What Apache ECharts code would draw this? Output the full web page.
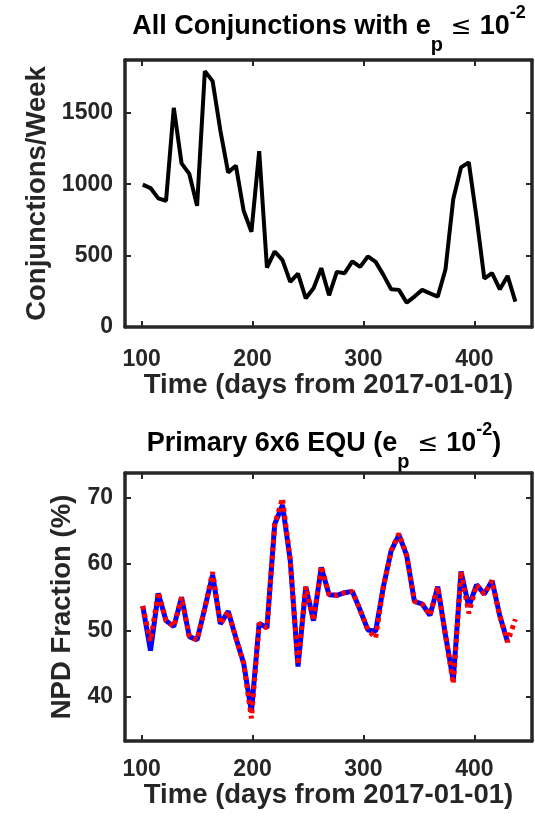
<!DOCTYPE html>
<html>
<head>
<meta charset="utf-8">
<script src="https://cdn.jsdelivr.net/npm/echarts@6/dist/echarts.min.js"></script>
<style>
  html, body { margin: 0; padding: 0; background: #ffffff; }
  #chart { width: 535px; height: 820px; }
</style>
</head>
<body>
<div id="chart"></div>
<script>
// Weekly sample times (days from 2017-01-01)
const days = [101, 108, 115, 122, 129, 136, 143, 150, 157, 164, 171, 178, 185, 192, 199, 206,
  213, 220, 227, 234, 241, 248, 255, 262, 269, 276, 283, 290, 297, 304, 311, 318, 325, 332,
  339, 346, 353, 360, 367, 374, 381, 388, 395, 402, 409, 416, 423, 430, 437];

// Conjunctions per week with e_p <= 1e-2
const conjunctionsPerWeek = [997, 973, 901, 884, 1535, 1146, 1072, 849, 1792, 1722, 1376, 1083,
  1130, 814, 667, 1231, 416, 529, 468, 316, 374, 201, 271, 412, 222, 386, 377, 459, 421, 494,
  456, 365, 264, 260, 171, 213, 260, 236, 213, 405, 896, 1118, 1153, 767, 339, 377, 264, 358, 178];

// NPD fraction (%), primary 6x6 EQU: solid blue curve (ends at day 430)
const npdFractionBlue = [53.7, 47.0, 55.6, 51.5, 50.6, 55.0, 49.1, 48.6, 53.4, 58.4, 51.0, 52.9,
  48.9, 45.1, 37.8, 51.1, 50.4, 66.0, 68.9, 60.6, 44.6, 56.6, 51.5, 59.5, 55.4, 55.3, 55.7, 55.9,
  53.1, 50.1, 49.9, 56.6, 62.0, 64.4, 61.3, 54.4, 54.0, 52.3, 56.6, 49.3, 42.5, 58.9, 53.6, 56.9,
  55.5, 57.5, 52.2, 48.3];

// NPD fraction (%), dotted red curve (ends at day 437)
const npdFractionRed = [53.7, 48.4, 55.8, 51.5, 50.6, 55.0, 49.1, 48.6, 53.4, 58.8, 51.0, 52.9,
  48.9, 45.1, 36.8, 51.1, 50.4, 66.0, 69.9, 60.6, 44.9, 56.6, 51.5, 59.7, 55.4, 55.3, 55.7, 55.9,
  53.1, 50.1, 48.9, 56.6, 62.0, 64.6, 61.3, 54.4, 54.0, 52.3, 56.6, 49.3, 42.0, 58.9, 52.6, 56.9,
  55.5, 57.5, 52.2, 48.3, 51.7];

const xTicks = [100, 200, 300, 400];
const conjTicks = [0, 500, 1000, 1500];
const npdTicks = [40, 50, 60, 70];

const INK = '#262626';
const FONT = '"Liberation Sans", Arial, Helvetica, sans-serif';

function pairs(xs, ys) {
  return ys.map((y, i) => [xs[i], y]);
}

function tickLabels(ticks, margin) {
  return { show: true, customValues: ticks, color: INK, fontSize: 23, fontWeight: 'bold',
           fontFamily: FONT, margin: margin, formatter: (v) => String(v) };
}

function frameAxis(extra, ticks) {
  return Object.assign({
    type: 'value',
    axisLine: { show: true, onZero: false, lineStyle: { color: INK, width: 3.5 } },
    axisTick: { show: true, inside: true, length: 6, customValues: ticks,
                lineStyle: { color: INK, width: 2 } },
    axisLabel: { show: false },
    splitLine: { show: false },
    nameTextStyle: { color: INK, fontSize: 27.5, fontWeight: 'bold', fontFamily: FONT },
    nameLocation: 'middle'
  }, extra);
}

const titleRich = {
  m: { fontSize: 27, fontWeight: 'bold', fontFamily: FONT, color: '#000', lineHeight: 44 },
  s: { fontSize: 20, fontWeight: 'bold', fontFamily: FONT, color: '#000', verticalAlign: 'bottom', height: 8 },
  le: { fontSize: 25, fontWeight: 'normal', fontFamily: '"DejaVu Sans", sans-serif', color: '#000', lineHeight: 44 },
  u: { fontSize: 18, fontWeight: 'bold', fontFamily: FONT, color: '#000', verticalAlign: 'top', height: 17 }
};

const chart = echarts.init(document.getElementById('chart'), null, { renderer: 'canvas' });

chart.setOption({
  animation: false,
  backgroundColor: '#ffffff',
  grid: [
    { left: 125, top: 60, width: 407, height: 267, show: false },
    { left: 125, top: 473, width: 407, height: 268, show: false }
  ],
  xAxis: [
    frameAxis({ gridIndex: 0, position: 'bottom', min: 85, max: 452,
      name: 'Time (days from 2017-01-01)', nameGap: 44, axisLabel: tickLabels(xTicks, 21) }, xTicks),
    frameAxis({ gridIndex: 0, position: 'top', min: 85, max: 452 }, xTicks),
    frameAxis({ gridIndex: 1, position: 'bottom', min: 85, max: 452,
      name: 'Time (days from 2017-01-01)', nameGap: 36, axisLabel: tickLabels(xTicks, 17) }, xTicks),
    frameAxis({ gridIndex: 1, position: 'top', min: 85, max: 452 }, xTicks)
  ],
  yAxis: [
    frameAxis({ gridIndex: 0, position: 'left', min: 0, max: 1870,
      name: 'Conjunctions/Week', nameGap: 74, nameRotate: 90,
      axisLabel: tickLabels(conjTicks, 12) }, conjTicks),
    frameAxis({ gridIndex: 0, position: 'right', min: 0, max: 1870 }, conjTicks),
    frameAxis({ gridIndex: 1, position: 'left', min: 33.4, max: 73.7,
      name: 'NPD Fraction (%)', nameGap: 42, nameRotate: 90,
      axisLabel: tickLabels(npdTicks, 12) }, npdTicks),
    frameAxis({ gridIndex: 1, position: 'right', min: 33.4, max: 73.7 }, npdTicks)
  ],
  series: [
    {
      name: 'Conjunctions/Week', type: 'line', xAxisIndex: 0, yAxisIndex: 0,
      data: pairs(days, conjunctionsPerWeek), showSymbol: false, symbol: 'none',
      lineStyle: { color: '#000000', width: 4 }
    },
    {
      name: 'NPD blue', type: 'line', xAxisIndex: 2, yAxisIndex: 2,
      data: pairs(days, npdFractionBlue), showSymbol: false, symbol: 'none',
      lineStyle: { color: '#0000ff', width: 5 }
    },
    {
      name: 'NPD red', type: 'line', xAxisIndex: 2, yAxisIndex: 2,
      data: pairs(days, npdFractionRed), showSymbol: false, symbol: 'none',
      lineStyle: { color: '#ff0000', width: 5, type: [4, 4] }
    }
  ],
  graphic: [
    {
      type: 'text', x: 329, y: 27,
      style: {
        text: '{m|All Conjunctions with e}{s|p}{le| ≤ }{m|10}{u|-2}',
        rich: titleRich, align: 'center', verticalAlign: 'middle'
      }
    },
    {
      type: 'text', x: 324, y: 444,
      style: {
        text: '{m|Primary 6x6 EQU (e}{s|p}{le| ≤ }{m|10}{u|-2}{m|)}',
        rich: titleRich, align: 'center', verticalAlign: 'middle'
      }
    }
  ]
});
</script>
</body>
</html>
